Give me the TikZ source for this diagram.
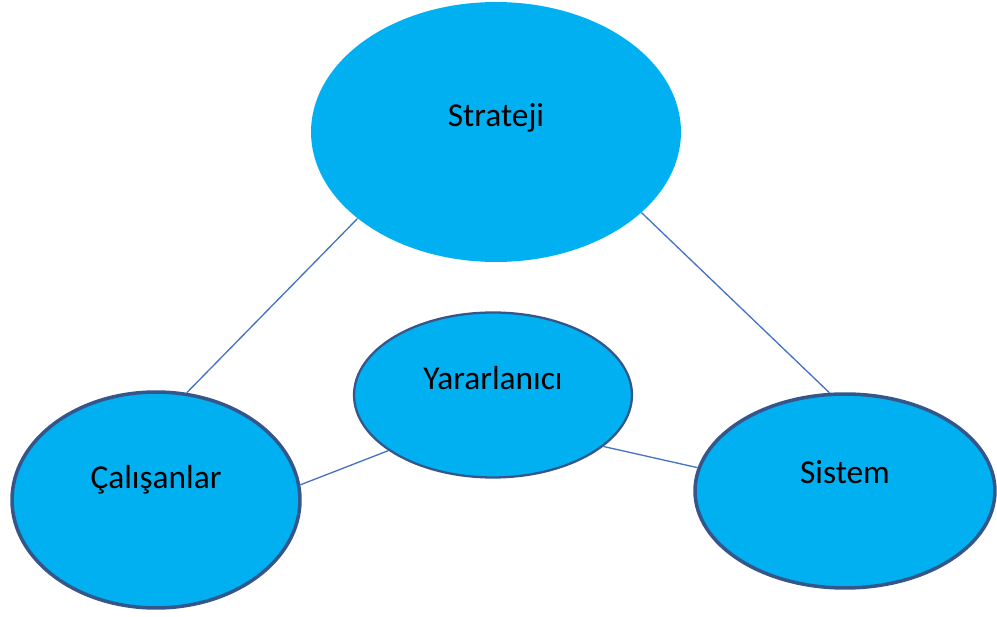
\documentclass[tikz,border=0pt]{standalone}
\usepackage{fontspec}
\setmainfont{Carlito}
\usetikzlibrary{positioning,shapes.geometric}
\definecolor{bubbleBlue}{HTML}{00B0F0}
\definecolor{rimNavy}{HTML}{35568A}
\definecolor{linkBlue}{HTML}{4472C4}
\tikzset{
    bubble/.style={ellipse,fill=bubbleBlue,inner sep=0pt},
    rimbubble/.style={bubble,draw=rimNavy,line width=2pt},
    thinrim/.style={bubble,draw=rimNavy,line width=1.3pt},
    lbl/.style={font=\fontsize{19}{23}\selectfont,text=black,inner sep=0pt},
    link/.style={draw=linkBlue,line width=0.75pt}
}
\begin{document}
\begin{tikzpicture}[x=0.02cm,y=-0.02cm]
    \useasboundingbox (0,0) rectangle (997,617);
    \node[bubble,minimum width=7.4cm,minimum height=5.2cm,
        label={[lbl,name=stratejiText,yshift=0.29cm]center:Strateji}] (strateji) at (496,132) {};
    \node[thinrim,minimum width=5.56cm,minimum height=3.3cm,
        label={[lbl,name=yararText,yshift=0.34cm]center:Yararlanıcı}] (yarar) at (493,395) {};
    \node[rimbubble,minimum width=5.76cm,minimum height=4.32cm,
        label={[lbl,name=calisanText,yshift=0.4cm]center:Çalışanlar}] (calisan) at (156,500) {};
    \node[rimbubble,minimum width=6.0cm,minimum height=3.88cm,
        label={[lbl,name=sistemText,yshift=0.38cm]center:Sistem}] (sistem) at (845,491) {};
    \draw[link] (strateji.212) -- (calisan.74);
    \draw[link] (strateji.-29) -- (sistem.99);
    \draw[link] (yarar.208) -- (calisan.6);
    \draw[link] (yarar.-25) -- (sistem.171);
\end{tikzpicture}
\end{document}
